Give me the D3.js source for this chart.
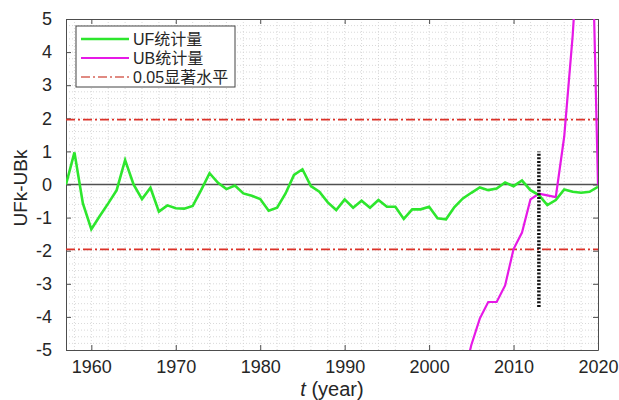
<!DOCTYPE html>
<html>
<head>
<meta charset="utf-8">
<script src="https://cdn.jsdelivr.net/npm/d3@7"></script>
<style>
  body { margin: 0; background: #fff; }
  svg { display: block; font-family: "Liberation Sans", Arial, "Noto Sans CJK SC", sans-serif; }
</style>
</head>
<body>
<svg width="619" height="400"></svg>
<script>
// UF statistic, one value per year 1957..2020
var years = d3.range(1957, 2021);
var ufValues = [
  0.00, 0.97, -0.57, -1.35, -0.95, -0.57, -0.17, 0.74, 0.00, -0.44,
  -0.10, -0.82, -0.63, -0.72, -0.73, -0.65, -0.17, 0.34, 0.05, -0.14,
  -0.03, -0.27, -0.34, -0.44, -0.79, -0.70, -0.27, 0.29, 0.46, -0.05,
  -0.22, -0.54, -0.77, -0.45, -0.70, -0.49, -0.70, -0.47, -0.67, -0.67,
  -1.04, -0.75, -0.75, -0.67, -1.02, -1.05, -0.68, -0.42, -0.25, -0.09,
  -0.17, -0.12, 0.06, -0.05, 0.12, -0.17, -0.32, -0.62, -0.47, -0.15,
  -0.22, -0.25, -0.22, -0.07
];
// UB statistic (only the part inside the plot range)
var ubYears = d3.range(2004, 2021);
var ubValues = [
  -5.9, -4.85, -4.05, -3.55, -3.55, -3.05, -1.95, -1.45, -0.45, -0.28,
  -0.33, -0.38, 1.45, 4.5, 8.5, 11, 0.0
];
var sigLevels = [1.96, -1.96];
var changePoint = { year: 2013, from: -3.7, to: 1.0 };
var xTicks = [1960, 1970, 1980, 1990, 2000, 2010, 2020];
var yTicks = [-5, -4, -3, -2, -1, 0, 1, 2, 3, 4, 5];
var legendLabels = ["UF统计量", "UB统计量", "0.05显著水平"];

var svg = d3.select("svg");
var plotL = 66, plotR = 598, plotT = 19, plotB = 350;

var x = d3.scaleLinear().domain([1957, 2020]).range([plotL, plotR]);
var y = d3.scaleLinear().domain([-5, 5]).range([plotB, plotT]);

var axisColor = "#4d4d4d";
var textColor = "#262626";

svg.append("defs").append("clipPath").attr("id", "plot")
  .append("rect").attr("x", plotL).attr("y", plotT)
  .attr("width", plotR - plotL).attr("height", plotB - plotT);

// minor grid
var grid = svg.append("g").attr("stroke", "#cfcfcf").attr("stroke-width", 0.8)
  .attr("stroke-dasharray", "1,2");
d3.range(1958, 2020, 2).forEach(function(v) {
  grid.append("line").attr("x1", x(v)).attr("x2", x(v)).attr("y1", plotT).attr("y2", plotB);
});
d3.range(-4.8, 5, 0.2).forEach(function(v) {
  grid.append("line").attr("x1", plotL).attr("x2", plotR).attr("y1", y(v)).attr("y2", y(v));
});

// axes (ticks inward, box all round)
var xAxis = svg.append("g").attr("transform", "translate(0," + plotB + ")")
  .call(d3.axisBottom(x).tickValues(xTicks).tickFormat(d3.format("d")).tickSizeInner(-5).tickSizeOuter(0).tickPadding(10));
var yAxis = svg.append("g").attr("transform", "translate(" + plotL + ",0)")
  .call(d3.axisLeft(y).tickValues(yTicks).tickFormat(function(d) { return String(d); })
    .tickSizeInner(-5).tickSizeOuter(0).tickPadding(14));
var xTop = svg.append("g").attr("transform", "translate(0," + plotT + ")")
  .call(d3.axisTop(x).tickValues(xTicks).tickSizeInner(-5).tickSizeOuter(0).tickFormat(""));
var yRight = svg.append("g").attr("transform", "translate(" + plotR + ",0)")
  .call(d3.axisRight(y).tickValues(yTicks).tickSizeInner(-5).tickSizeOuter(0).tickFormat(""));
[xAxis, yAxis, xTop, yRight].forEach(function(a) {
  a.select(".domain").attr("stroke", axisColor);
  a.selectAll(".tick line").attr("stroke", axisColor);
  a.selectAll("text").attr("fill", textColor).style("font-size", "18px");
});

var plot = svg.append("g").attr("clip-path", "url(#plot)");

// zero line
plot.append("line")
  .attr("x1", plotL).attr("x2", plotR).attr("y1", y(0)).attr("y2", y(0))
  .attr("stroke", "#505050").attr("stroke-width", 1.4);

// significance lines
plot.selectAll(".sig").data(sigLevels).enter().append("line")
  .attr("x1", plotL).attr("x2", plotR)
  .attr("y1", function(d) { return y(d); }).attr("y2", function(d) { return y(d); })
  .attr("stroke", "#dc3229").attr("stroke-width", 1.6)
  .attr("stroke-dasharray", "9,3,2,3");

var line = d3.line()
  .x(function(d) { return x(d[0]); })
  .y(function(d) { return y(d[1]); });

plot.append("path")
  .datum(d3.zip(ubYears, ubValues))
  .attr("d", line).attr("fill", "none")
  .attr("stroke", "#e619e6").attr("stroke-width", 2.2);

plot.append("path")
  .datum(d3.zip(years, ufValues))
  .attr("d", line).attr("fill", "none")
  .attr("stroke", "#2de62d").attr("stroke-width", 2.6);

// change point marker
plot.append("line")
  .attr("x1", x(changePoint.year)).attr("x2", x(changePoint.year))
  .attr("y1", y(changePoint.from)).attr("y2", y(changePoint.to))
  .attr("stroke", "#111").attr("stroke-width", 3.5)
  .attr("stroke-dasharray", "2,1.6");

// legend
var legend = svg.append("g");
legend.append("rect")
  .attr("x", 76).attr("y", 26).attr("width", 159).attr("height", 61)
  .attr("fill", "#fff").attr("stroke", "#444").attr("stroke-width", 1);
var legendStyles = [
  { color: "#2de62d", dash: null, w: 2.6 },
  { color: "#e619e6", dash: null, w: 2.2 },
  { color: "#e08a82", dash: "9,3,2,3", w: 1.8 }
];
legendLabels.forEach(function(label, i) {
  var ly = 39 + i * 19;
  legend.append("line")
    .attr("x1", 81).attr("x2", 129).attr("y1", ly).attr("y2", ly)
    .attr("stroke", legendStyles[i].color).attr("stroke-width", legendStyles[i].w)
    .attr("stroke-dasharray", legendStyles[i].dash);
  legend.append("text")
    .attr("x", 133).attr("y", ly).attr("dy", "0.36em")
    .attr("fill", textColor).style("font-size", "16px")
    .text(label);
});

// axis titles
var xt = svg.append("text")
  .attr("x", 332).attr("y", 396)
  .attr("text-anchor", "middle").attr("fill", textColor).style("font-size", "20px");
xt.append("tspan").attr("font-style", "italic").text("t");
xt.append("tspan").text(" (year)");

svg.append("text")
  .attr("transform", "translate(27,188) rotate(-90)")
  .attr("text-anchor", "middle").attr("fill", textColor).style("font-size", "19px")
  .text("UFk-UBk");
</script>
</body>
</html>
